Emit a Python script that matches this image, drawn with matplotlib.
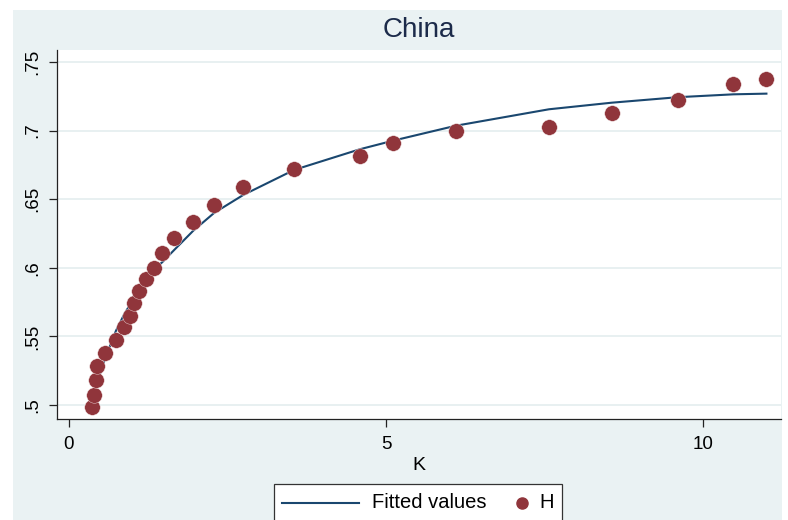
import matplotlib.pyplot as plt
from matplotlib.patches import Rectangle
from matplotlib.lines import Line2D

# data
K = [0.36, 0.39, 0.43, 0.44, 0.57, 0.74, 0.87, 0.96, 1.03, 1.10, 1.21, 1.34, 1.47,
     1.66, 1.96, 2.29, 2.75, 3.55, 4.59, 5.11, 6.10, 7.57, 8.56, 9.60, 10.48, 11.00]
H = [0.4988, 0.5075, 0.5180, 0.5284, 0.5381, 0.5474, 0.5569, 0.5651, 0.5741, 0.5833,
     0.5918, 0.6001, 0.6106, 0.6217, 0.6336, 0.6458, 0.6587, 0.6718, 0.6817, 0.6907,
     0.6995, 0.7024, 0.7130, 0.7223, 0.7337, 0.7374]
fitted = [0.503, 0.508, 0.514, 0.516, 0.534, 0.554, 0.566, 0.573, 0.579, 0.584,
          0.591, 0.599, 0.604, 0.613, 0.627, 0.640, 0.6531, 0.6713, 0.6864, 0.6926,
          0.7035, 0.7155, 0.7203, 0.7243, 0.7264, 0.7269]
yticks = [0.5, 0.55, 0.6, 0.65, 0.7, 0.75]
ytick_labels = ['.5', '.55', '.6', '.65', '.7', '.75']
xticks = [0, 5, 10]
title = 'China'

plt.rcParams['font.family'] = ['Liberation Sans', 'DejaVu Sans']

W, Hpx = 788, 520
bg = '#EAF2F3'
navy = '#1A476F'
maroon = '#90353B'


def fx(px):
    return px / W


def fy(py):
    return 1 - py / Hpx


fig = plt.figure(figsize=(W / 100, Hpx / 100), dpi=100, facecolor='white')
# Stata-like graph region, drawn under the axes
fig.patches.append(Rectangle((fx(13), 0), fx(782) - fx(13), fy(10), transform=fig.transFigure,
                             facecolor=bg, edgecolor='none', zorder=-10))

ax = fig.add_axes([fx(57), fy(419), fx(781) - fx(57), fy(50) - fy(419)])
ax.set_facecolor('white')

ax.plot(K, fitted, color=navy, lw=1.5, zorder=3)
ax.scatter(K, H, s=125, color=maroon, edgecolors='#F0E0E0', linewidths=0.3, zorder=4)

ax.set_xlim(-0.189, 11.23)
ax.set_ylim(0.4898, 0.7587)
ax.set_xticks(xticks)
ax.set_xticklabels([str(t) for t in xticks])
ax.set_yticks(yticks)
ax.set_yticklabels(ytick_labels)
ax.grid(axis='y', color='#E4EDEF', lw=1.2)
ax.set_axisbelow(True)

for s in ['top', 'right']:
    ax.spines[s].set_visible(False)
for s in ['left', 'bottom']:
    ax.spines[s].set_color('#222222')
    ax.spines[s].set_linewidth(0.9)

ax.tick_params(axis='both', length=6, width=0.9, color='#222222', labelsize=13.5)
ax.tick_params(axis='x', pad=6)
ax.tick_params(axis='y', pad=5, labelrotation=90)
for lab in ax.get_yticklabels():
    lab.set_va('center')

ax.set_xlabel('K', fontsize=14, labelpad=3)

fig.text(fx(419), fy(30), title, fontsize=20, color='#1C2B4A', ha='center', va='center')

# legend box (bottom edge runs off the image like in the reference)
fig.patches.append(Rectangle((fx(274), fy(524)), fx(562) - fx(274), fy(484) - fy(524),
                             transform=fig.transFigure, facecolor='white',
                             edgecolor='#333333', lw=0.9, zorder=5))
fig.lines.append(Line2D([fx(282), fx(359)], [fy(503), fy(503)], transform=fig.transFigure,
                        color=navy, lw=1.5, zorder=6))
fig.text(fx(372), fy(503), 'Fitted values', fontsize=14.5, ha='left', va='center', zorder=6)
fig.lines.append(Line2D([fx(522)], [fy(503)], transform=fig.transFigure, marker='o',
                        markersize=8, color=maroon, lw=0, zorder=6))
fig.text(fx(539), fy(503), 'H', fontsize=14.5, ha='left', va='center', zorder=6)

fig.savefig('out.png', dpi=100, facecolor=fig.get_facecolor())
